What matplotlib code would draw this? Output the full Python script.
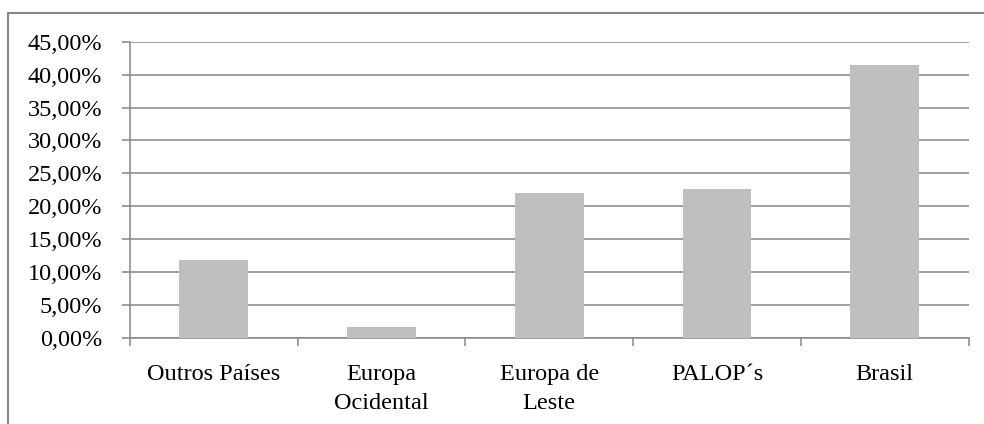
import matplotlib
matplotlib.use("Agg")
import matplotlib.pyplot as plt
from matplotlib.lines import Line2D
from matplotlib.ticker import FuncFormatter, MultipleLocator

categories = ["Outros Países", "Europa\nOcidental", "Europa de\nLeste", "PALOP´s", "Brasil"]
values = [11.9, 1.6, 22.0, 22.6, 41.5]

plt.rcParams['font.family'] = ['Liberation Serif', 'DejaVu Serif']

fig = plt.figure(figsize=(9.84, 4.24), dpi=100)
ax = fig.add_axes([130/984, 1-338/424, (968.5-130)/984, (338-41.7)/424])

grid_c = "#868686"
x = list(range(len(categories)))
ax.bar(x, values, width=0.41, color="#BFBFBF", zorder=3)

ax.set_xlim(-0.5, len(categories) - 0.5)
ax.set_ylim(0, 45)
ax.yaxis.set_major_locator(MultipleLocator(5))
ax.yaxis.set_major_formatter(FuncFormatter(lambda v, p: f"{v:.2f}".replace(".", ",") + "%"))
ax.grid(axis="y", color=grid_c, linewidth=1.1, zorder=0)

ax.set_xticks([i - 0.5 for i in range(len(categories) + 1)])
ax.set_xticklabels([])
ax.set_xticks(x, minor=True)
ax.set_xticklabels(categories, minor=True, fontsize=17.5)
ax.tick_params(axis="x", which="major", length=6, color=grid_c, width=1.1, direction="out")
ax.tick_params(axis="x", which="minor", length=0, pad=19)
ax.tick_params(axis="y", length=6, color=grid_c, width=1.1, labelsize=17.5, pad=14)
for lbl in ax.get_xticklabels(minor=True):
    lbl.set_linespacing(1.45)

for s in ["top", "right"]:
    ax.spines[s].set_visible(False)
for s in ["left", "bottom"]:
    ax.spines[s].set_color(grid_c)
    ax.spines[s].set_linewidth(1.1)

# outer chart frame
fig.add_artist(Line2D([8/984, 8/984], [0, 1-13/424], transform=fig.transFigure, color="#888888", linewidth=1.5))
fig.add_artist(Line2D([8/984, 1], [1-13/424, 1-13/424], transform=fig.transFigure, color="#888888", linewidth=1.5))

fig.savefig("out.png", dpi=100)
